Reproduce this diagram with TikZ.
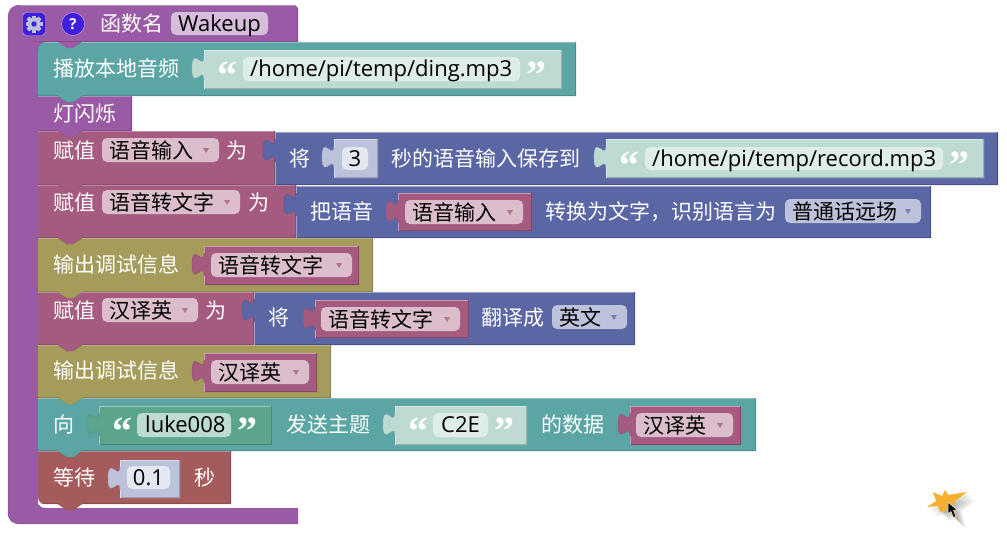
\documentclass[tikz,border=0pt]{standalone}
\usepackage{fontspec}
\setmainfont{Open Sans}
\newfontfamily\cjk{Noto Sans CJK SC}
\newfontfamily\quotefont{Liberation Serif Bold}
\usetikzlibrary{shapes, arrows, positioning}
\definecolor{funcpurple}{HTML}{995BA5}
\definecolor{tealblock}{HTML}{5BA5A5}
\definecolor{roseblock}{HTML}{A55B80}
\definecolor{blueblock}{HTML}{5B67A5}
\definecolor{oliveblock}{HTML}{A59C5B}
\definecolor{redblock}{HTML}{A55B5B}
\definecolor{greenblock}{HTML}{5BA58C}
\definecolor{textblock}{HTML}{BDDBD3}
\definecolor{textfield}{HTML}{DEEDE9}
\definecolor{numblock}{HTML}{BDC2DB}
\definecolor{numfield}{HTML}{E4E6F1}
\definecolor{rosefield}{HTML}{DBBDCC}
\definecolor{purplefield}{HTML}{D6BDDB}
\definecolor{gearblue}{HTML}{3F1FDD}
\definecolor{burst}{HTML}{F5B030}
\tikzstyle{lbl} = [text=white, anchor=west, inner sep=0pt, text height=21.5pt, text depth=5pt, font=\cjk\fontsize{21}{24}\selectfont]
\tikzstyle{fieldtext} = [text=black, anchor=west, inner sep=0pt, text height=21.5pt, text depth=5pt, font=\cjk\fontsize{21}{24}\selectfont]
\tikzstyle{latintext} = [fieldtext, font=\fontsize{22}{24}\selectfont]
\tikzstyle{quotemark} = [text=white, inner sep=0pt, font=\quotefont\fontsize{40}{40}\selectfont]
\newcommand{\stackblock}[5]{%
	\begin{scope}[shift={(#2,#3)}]
		\fill[#1] (0,0) -- (#4,0) -- (#4,#5) -- (44,#5) -- (35,#5+6) -- (29,#5+6) -- (20,#5) -- (0,#5) -- cycle;
		\draw[#1!70!white] (0,0.5) -- (#4,0.5);
		\draw[#1!85!black] (#4-0.5,0) -- (#4-0.5,#5-0.5) -- (44,#5-0.5);
		\draw[#1!85!black] (20,#5-0.5) -- (0,#5-0.5);
		\draw[#1!90!black] (44,#5) -- (35,#5+6) -- (29,#5+6) -- (20,#5);
	\end{scope}}
\newcommand{\valueblock}[5]{%
	\begin{scope}[shift={(#2,#3)}]
		\fill[#1] (0,0) -- (0,7) .. controls (0,22) and (-12,-5) .. (-12,18.25) .. controls (-12,41.5) and (0,14.5) .. (0,29.5) -- (0,#5) -- (#4,#5) -- (#4,0) -- cycle;
		\draw[#1!60!white] (0,#5) -- (0,29.5) (0,7) -- (0,0.5) -- (#4,0.5);
		\draw[#1!90!black] (0,7) .. controls (0,22) and (-12,-5) .. (-12,18.25) .. controls (-12,41.5) and (0,14.5) .. (0,29.5);
		\draw[#1!80!black] (0.5,#5-0.5) -- (#4-0.5,#5-0.5) -- (#4-0.5,0);
	\end{scope}}
\newcommand{\dropfield}[7]{% name, fill, x0, x1, y, arrow colour, text
	\fill[#2, rounded corners=5pt] (#3,#5-12) rectangle (#4,#5+12);
	\fill[#6!75!#2] (#4-16,#5-2) -- (#4-10,#5-2) -- (#4-13,#5+3) -- cycle;
	\node[fieldtext] (#1) at (#3+7,#5) {#7};}
\begin{document}
\begin{tikzpicture}[x=1pt,y=-1pt]
	\useasboundingbox (0,0) rectangle (1007,533);
	% function frame
	\fill[funcpurple] (20,5) -- (295,5) -- (298,8) -- (298,42) -- (38,42) -- (38,500) .. controls (38,506) and (41,508) .. (46,508) -- (298,508) -- (298,524) -- (20,524) .. controls (12,524) and (8,520) .. (8,512) -- (8,17) .. controls (8,9) and (12,5) .. (20,5) -- cycle;
	\draw[funcpurple!85!black] (8,17) -- (8,512) .. controls (8,520) and (12,523.5) .. (20,523.5) -- (297.5,523.5) -- (297.5,508);
	\draw[funcpurple!70!white] (20,5.5) -- (295,5.5);
	\draw[funcpurple!85!black] (297.5,8) -- (297.5,41.5) -- (38,41.5);
	% stack, last block first
	\stackblock{redblock}{38}{451}{193}{53}
	\fill[white] (38,497) -- (38,504.5) -- (46,504.5) .. controls (41,504.5) and (38,502) .. (38,497) -- cycle;
	\stackblock{tealblock}{38}{398}{718}{53}
	\stackblock{oliveblock}{38}{345}{293}{53}
	\stackblock{roseblock}{38}{292}{216}{53}
	\stackblock{oliveblock}{38}{238}{335}{54}
	\stackblock{roseblock}{38}{185}{258}{53}
	\stackblock{roseblock}{38}{131}{237}{54}
	\stackblock{funcpurple}{38}{96}{94}{35}
	\stackblock{tealblock}{38}{42}{538}{54}
	\fill[funcpurple] (58,42) -- (67,48) -- (73,48) -- (82,42) -- cycle;
	\fill[funcpurple] (38,42) -- (47,42) .. controls (41,42) and (38,45) .. (38,51) -- cycle;
	% header
	\fill[gearblue, rounded corners=4pt, draw=funcpurple!50!white] (22.5,12.5) rectangle (45.5,35.5);
	\foreach \tooth in {0,45,...,315} {
		\fill[numblock, rotate around={\tooth:(34,24)}] (32,15.5) rectangle (36,20);
	}
	\fill[numblock, even odd rule] (34,24) circle (6.5) (34,24) circle (2.8);
	\node[circle, fill=gearblue, draw=funcpurple!50!white, minimum size=23pt, inner sep=0pt, text=white, font=\bfseries\fontsize{15}{15}\selectfont] (helpbtn) at (73,24) {?};
	\node[lbl] (functitle) at (100,23) {函数名};
	\fill[purplefield, rounded corners=5pt] (171,12) rectangle (268,35);
	\node[latintext] (funcname) at (178,23) {Wakeup};
	% play
	\node[lbl] (playtext) at (53,68) {播放本地音频};
	\valueblock{textblock}{204}{50}{358}{39}
	\node[quotemark] (playopen) at (227,75) {“};
	\fill[textfield, rounded corners=5pt] (243,57) rectangle (520,81);
	\node[latintext] (playfile) at (250,68) {/home/pi/temp/ding.mp3};
	\node[quotemark] (playclose) at (536,75) {”};
	% blink
	\node[lbl] (blinktext) at (53,113) {灯闪烁};
	% record
	\node[lbl] (setaudio) at (53,150) {赋值};
	\dropfield{audiovar}{rosefield}{102}{219}{150}{roseblock}{语音输入}
	\node[lbl] (setaudiowei) at (226,150) {为};
	\valueblock{blueblock}{275}{132}{723}{53}
	\node[lbl] (recordjiang) at (289,158) {将};
	\valueblock{numblock}{334}{139}{44}{39}
	\fill[numfield, rounded corners=5pt] (342,147) rectangle (368,170);
	\node[latintext, anchor=center] (recordsecs) at (355,158) {3};
	\node[lbl] (recordtext) at (391,158) {秒的语音输入保存到};
	\valueblock{textblock}{606}{139}{378}{39}
	\node[quotemark] (recordopen) at (629,165) {“};
	\fill[textfield, rounded corners=5pt] (645,147) rectangle (943,170);
	\node[latintext] (recordfile) at (652,158) {/home/pi/temp/record.mp3};
	\node[quotemark] (recordclose) at (959,165) {”};
	% speech to text
	\node[lbl] (settext) at (53,202) {赋值};
	\dropfield{textvar}{rosefield}{102}{240}{202}{roseblock}{语音转文字}
	\node[lbl] (settextwei) at (248,202) {为};
	\valueblock{blueblock}{296}{186}{635}{52}
	\node[lbl] (convertba) at (310,211) {把语音};
	\valueblock{roseblock}{398}{193}{134}{38}
	\dropfield{convertvar}{rosefield}{405}{523}{212}{roseblock}{语音输入}
	\node[lbl] (converttext) at (545,211) {转换为文字，识别语言为};
	\dropfield{langfield}{numblock}{785}{921}{211}{blueblock}{普通话远场}
	% debug one
	\node[lbl] (debugone) at (53,264) {输出调试信息};
	\valueblock{roseblock}{204}{246}{155}{39}
	\dropfield{debugonevar}{rosefield}{211}{352}{265}{roseblock}{语音转文字}
	% translate
	\node[lbl] (settrans) at (53,310) {赋值};
	\dropfield{transvar}{rosefield}{102}{198}{310}{roseblock}{汉译英}
	\node[lbl] (settranswei) at (205,310) {为};
	\valueblock{blueblock}{254}{292}{381}{53}
	\node[lbl] (transjiang) at (268,317) {将};
	\valueblock{roseblock}{315}{300}{154}{38}
	\dropfield{transinput}{rosefield}{321}{460}{319}{roseblock}{语音转文字}
	\node[lbl] (transtext) at (481,317) {翻译成};
	\dropfield{transfield}{numblock}{552}{627}{317}{blueblock}{英文}
	% debug two
	\node[lbl] (debugtwo) at (53,370) {输出调试信息};
	\valueblock{roseblock}{204}{353}{113}{39}
	\dropfield{debugtwovar}{rosefield}{211}{309}{372}{roseblock}{汉译英}
	% send
	\node[lbl] (sendto) at (53,424) {向};
	\valueblock{greenblock}{99}{406}{173}{39}
	\node[quotemark] (sendopen) at (122,431) {“};
	\fill[textblock, rounded corners=5pt] (137,413) rectangle (231,437);
	\node[latintext] (sendname) at (145,424) {luke008};
	\node[quotemark] (sendclose) at (247,431) {”};
	\node[lbl] (sendtopic) at (286,424) {发送主题};
	\valueblock{textblock}{395}{406}{132}{39}
	\node[quotemark] (topicopen) at (418,431) {“};
	\fill[textfield, rounded corners=5pt] (433,413) rectangle (488,437);
	\node[latintext] (topicname) at (441,424) {C2E};
	\node[quotemark] (topicclose) at (504,431) {”};
	\node[lbl] (senddata) at (541,424) {的数据};
	\valueblock{roseblock}{630}{406}{111}{39}
	\dropfield{sendvar}{rosefield}{636}{733}{425}{roseblock}{汉译英}
	% wait
	\node[lbl] (waittext) at (53,477) {等待};
	\valueblock{numblock}{120}{460}{60}{38}
	\fill[numfield, rounded corners=5pt] (127,466) rectangle (170,489);
	\node[latintext, anchor=center] (waitsecs) at (148.5,477) {0.1};
	\node[lbl] (waitmiao) at (194,477) {秒};
	% pointer
	\foreach \off in {2,3,...,9} {
		\fill[black, opacity=0.04, shift={(\off,\off)}] (933,492) -- (942,496) -- (945,490) -- (948,495) -- (967,492) -- (953,503) -- (957,520) -- (947,510) -- (940,512) -- (938,506) -- (927,507) -- (936,501) -- cycle;
	}
	\fill[burst] (933,492) -- (942,496) -- (945,490) -- (948,495) -- (967,492) -- (953,503) -- (957,520) -- (947,510) -- (940,512) -- (938,506) -- (927,507) -- (936,501) -- cycle;
	\fill[black, draw=white, line width=0.5pt] (948,502) -- (948,514) -- (951,511.5) -- (953.5,517.5) -- (956,516.5) -- (953.5,510.5) -- (957,510) -- cycle;
\end{tikzpicture}
\end{document}
